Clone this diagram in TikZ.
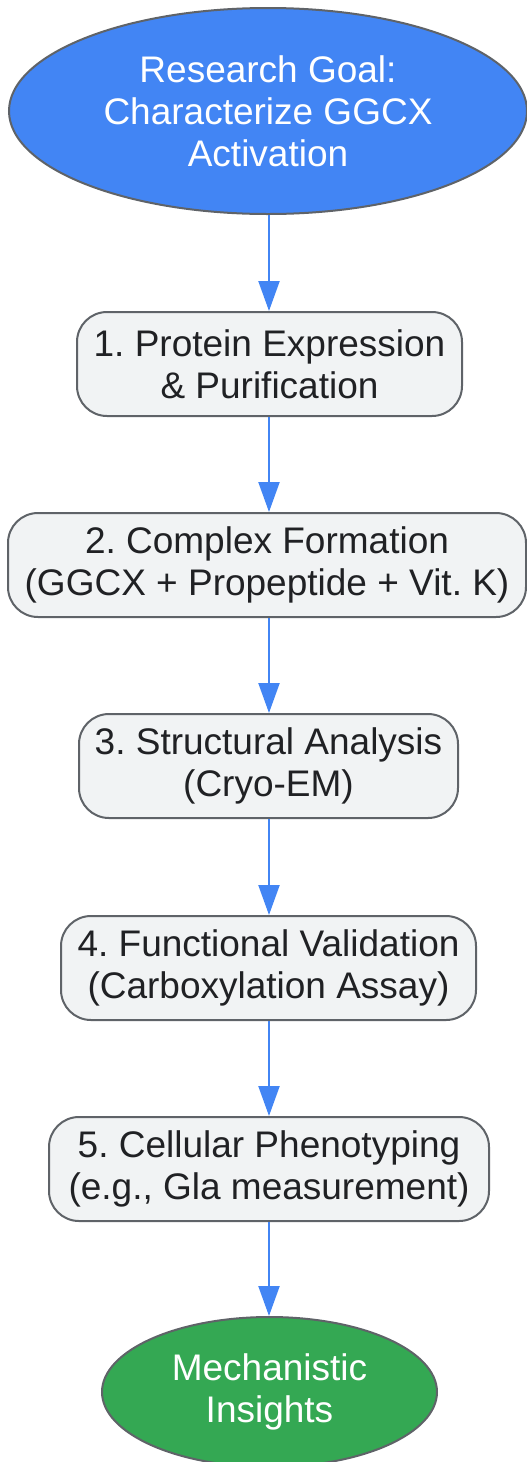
\documentclass[tikz,border=0pt]{standalone}
\usepackage{fontspec}
\setmainfont{Liberation Sans}
\usetikzlibrary{shapes.geometric,arrows.meta}
\definecolor{goalblue}{HTML}{4285F4}
\definecolor{endgreen}{HTML}{34A853}
\definecolor{boxfill}{HTML}{F1F3F4}
\definecolor{edgegray}{HTML}{5F6368}
\definecolor{inktext}{HTML}{202124}
\frenchspacing

\begin{document}
\begin{tikzpicture}[x=1pt,y=-1pt,
            every node/.style={font=\fontsize{37}{42}\selectfont,align=center,line width=2pt,draw=edgegray},
            stepbox/.style={rounded corners=30pt,fill=boxfill,text=inktext,minimum height=104pt,inner xsep=4pt},
            oval/.style={ellipse,inner sep=0pt,text=white},
            flow/.style={line width=2.2pt,goalblue,-{Triangle[width=21pt,length=30pt]}}]
            \useasboundingbox (0,0) rectangle (527,1462);

            \node[oval,fill=goalblue,minimum width=518pt,minimum height=206pt] (goal) at (268,111) {Research Goal:\\Characterize GGCX\\Activation};
            \node[stepbox,minimum width=385pt] (s1) at (269.5,364) {1. Protein Expression\\\& Purification};
            \node[stepbox,minimum width=518pt] (s2) at (267,565) {2. Complex Formation\\(GGCX + Propeptide + Vit. K)};
            \node[stepbox,minimum width=379pt] (s3) at (268.5,766) {3. Structural Analysis\\(Cryo-EM)};
            \node[stepbox,minimum width=415pt] (s4) at (268.5,968) {4. Functional Validation\\(Carboxylation Assay)};
            \node[stepbox,minimum width=440pt] (s5) at (269,1169) {5. Cellular Phenotyping\\(e.g., Gla measurement)};
            \node[oval,fill=endgreen,minimum width=335pt,minimum height=150pt] (insight) at (269.5,1392) {Mechanistic\\Insights};

            \foreach \a/\b in {goal/s1,s1/s2,s2/s3,s3/s4,s4/s5,s5/insight} {
            \draw[flow] (\a.south -| 269,0) -- (\b.north -| 269,0);}
        \end{tikzpicture}
\end{document}
